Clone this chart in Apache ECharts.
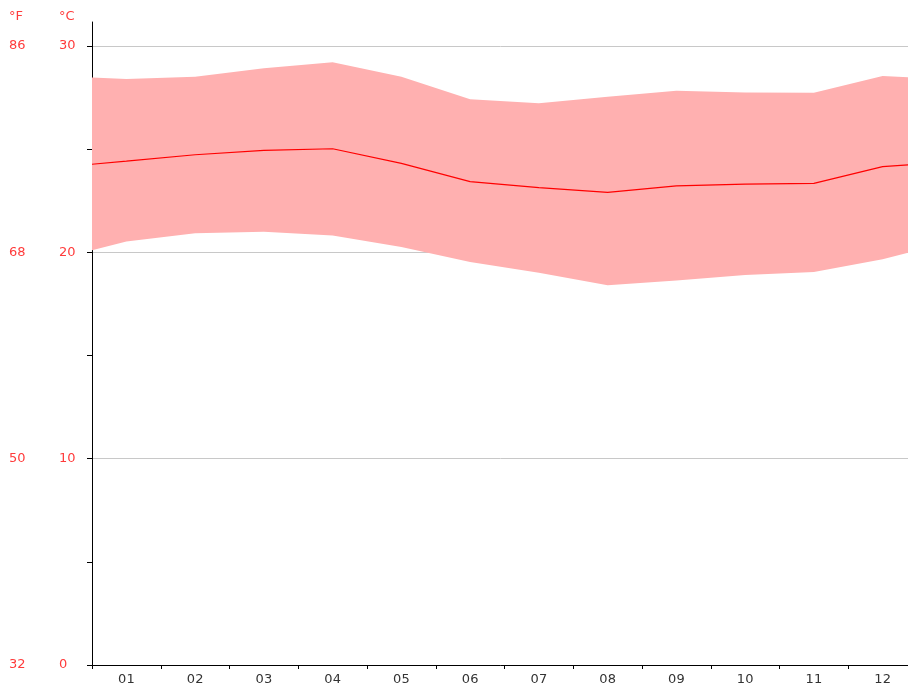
<!DOCTYPE html>
<html>
<head>
<meta charset="utf-8">
<script src="https://cdn.jsdelivr.net/npm/echarts@6/dist/echarts.min.js"></script>
<style>html,body{margin:0;padding:0;background:#fff}#c{width:908px;height:688px}</style>
</head>
<body>
<div id="c"></div>
<script>
// Months (category labels)
const months = ['01','02','03','04','05','06','07','08','09','10','11','12'];
// Monthly mean temperature, °C
const meanTemp = [24.42, 24.73, 24.94, 25.02, 24.31, 23.43, 23.14, 22.91, 23.22, 23.31, 23.34, 24.15];
// Monthly max temperature, °C
const maxTemp  = [28.40, 28.51, 28.92, 29.21, 28.51, 27.42, 27.22, 27.54, 27.83, 27.75, 27.74, 28.55];
// Monthly min temperature, °C
const minTemp  = [20.52, 20.92, 21.00, 20.81, 20.26, 19.53, 19.01, 18.40, 18.63, 18.90, 19.05, 19.66];
// Values read at the left/right plot edges (year boundary)
const edgeMean = 24.27;
const edgeMax  = 28.47;
const edgeMin  = 20.10;
// Tick labels
const celsiusTicks = [0, 10, 20, 30];
const fahrenheitTicks = [32, 50, 68, 86];

function withEdges(arr, edge) {
  const out = [[0, edge]];
  arr.forEach((v, i) => out.push([i + 0.5, v]));
  out.push([months.length, edge]);
  return out;
}
const meanPts = withEdges(meanTemp, edgeMean);
const minPts = withEdges(minTemp, edgeMin);
const maxPts = withEdges(maxTemp, edgeMax);
const bandData = maxPts.map((p, i) => [p[0], minPts[i][1], p[1]]);

const FONT = 'DejaVu Sans';
const RED = '#ff3b3b';

const chart = echarts.init(document.getElementById('c'), null, {renderer: 'canvas'});
chart.setOption({
  animation: false,
  backgroundColor: '#fff',
  title: [
    {text: '°F', left: 9, top: 10, padding: 0, textStyle: {fontFamily: FONT, fontSize: 13, fontWeight: 'normal', color: RED}},
    {text: '°C', left: 59, top: 10, padding: 0, textStyle: {fontFamily: FONT, fontSize: 13, fontWeight: 'normal', color: RED}}
  ],
  grid: [
    {left: 92, top: 46, width: 825, height: 619, containLabel: false, outerBoundsMode: 'none'},
    {left: 92, top: 22, width: 1, height: 643, containLabel: false, outerBoundsMode: 'none'}
  ],
  xAxis: [
    {
      type: 'category', gridIndex: 0, data: months, boundaryGap: true,
      axisLine: {show: true, lineStyle: {color: '#000', width: 1}},
      axisTick: {show: true, length: 4, alignWithLabel: false, lineStyle: {color: '#000'}},
      axisLabel: {color: '#333', fontFamily: FONT, fontSize: 13, margin: 8},
      splitLine: {show: false}
    },
    {
      type: 'value', gridIndex: 0, min: 0, max: months.length, show: false
    },
    {
      type: 'value', gridIndex: 1, min: 0, max: 1, show: false
    }
  ],
  yAxis: [
    {
      type: 'value', gridIndex: 0, position: 'left', min: 0, max: 30, interval: 10,
      axisLine: {show: true, lineStyle: {color: '#000', width: 1}},
      axisTick: {show: true, length: 5, lineStyle: {color: '#000'}},
      minorTick: {show: true, splitNumber: 2, length: 5, lineStyle: {color: '#000'}},
      axisLabel: {
        color: RED, fontFamily: FONT, fontSize: 13, margin: 33, align: 'left',
        formatter: v => celsiusTicks.includes(v) ? String(v) : ''
      },
      splitLine: {show: true, lineStyle: {color: '#c8c8c8', width: 1}}
    },
    {
      type: 'value', gridIndex: 0, position: 'left', offset: 0,
      min: fahrenheitTicks[0], max: fahrenheitTicks[fahrenheitTicks.length - 1], interval: 18,
      axisLine: {show: false}, axisTick: {show: false}, splitLine: {show: false},
      axisLabel: {
        color: RED, fontFamily: FONT, fontSize: 13, margin: 83, align: 'left',
        formatter: v => fahrenheitTicks.includes(v) ? String(v) : ''
      }
    },
    {
      type: 'value', gridIndex: 1, position: 'left', min: 0, max: 1,
      axisLine: {show: true, lineStyle: {color: '#000', width: 1}},
      axisTick: {show: false}, axisLabel: {show: false}, splitLine: {show: false}
    }
  ],
  series: [
    {
      type: 'custom', xAxisIndex: 1, yAxisIndex: 0, data: bandData,
      encode: {x: 0, y: [1, 2]}, silent: true, z: 2,
      renderItem: function (params, api) {
        if (params.dataIndex !== 0) return null;
        const top = bandData.map(d => api.coord([d[0], d[2]]));
        const bottom = bandData.slice().reverse().map(d => api.coord([d[0], d[1]]));
        return {
          type: 'polygon',
          shape: {points: top.concat(bottom)},
          style: {fill: '#ffb0b0', stroke: null}
        };
      }
    },
    {
      type: 'line', xAxisIndex: 1, yAxisIndex: 0, data: meanPts,
      symbol: 'none', lineStyle: {color: '#ff0000', width: 1.2}, z: 3
    }
  ]
});
</script>
</body>
</html>
